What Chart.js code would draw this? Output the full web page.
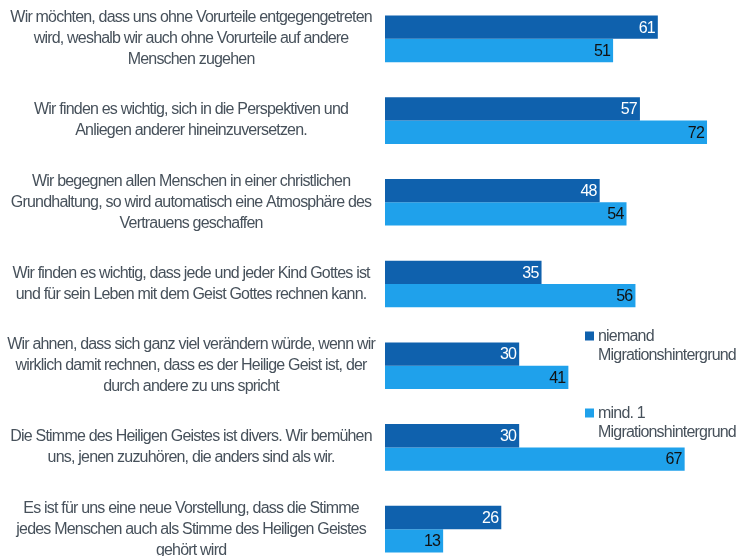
<!DOCTYPE html>
<html>
<head>
<meta charset="utf-8">
<script src="https://cdn.jsdelivr.net/npm/chart.js@4"></script>
<style>
  html, body { margin: 0; padding: 0; background: #fff; overflow: hidden; }
  #wrap { position: absolute; left: 0; top: -2.5px; width: 744px; height: 572px; }
</style>
</head>
<body>
<div id="wrap"><canvas id="chart" width="744" height="572"></canvas></div>
<script>
const statements = [
  ['Wir möchten, dass uns ohne Vorurteile entgegengetreten', 'wird, weshalb wir auch ohne Vorurteile auf andere', 'Menschen zugehen'],
  ['Wir finden es wichtig, sich in die Perspektiven und', 'Anliegen anderer hineinzuversetzen.'],
  ['Wir begegnen allen Menschen in einer christlichen', 'Grundhaltung, so wird automatisch eine Atmosphäre des', 'Vertrauens geschaffen'],
  ['Wir finden es wichtig, dass jede und jeder Kind Gottes ist', 'und für sein Leben mit dem Geist Gottes rechnen kann.'],
  ['Wir ahnen, dass sich ganz viel verändern würde, wenn wir', 'wirklich damit rechnen, dass es der Heilige Geist ist, der', 'durch andere zu uns spricht'],
  ['Die Stimme des Heiligen Geistes ist divers. Wir bemühen', 'uns, jenen zuzuhören, die anders sind als wir.'],
  ['Es ist für uns eine neue Vorstellung, dass die Stimme', 'jedes Menschen auch als Stimme des Heiligen Geistes', 'gehört wird']
];
const seriesNames = [['niemand', 'Migrationshintergrund'], ['mind. 1', 'Migrationshintergrund']];
const keinMigration = [61, 57, 48, 35, 30, 30, 26];
const mitMigration = [51, 72, 54, 56, 41, 67, 13];

const darkBlue = '#0f61ad';
const lightBlue = '#1fa1eb';
const textGrey = '#47515b';
const fontFamily = '"Liberation Sans", Arial, sans-serif';
const spacing = '-0.8px';

// the source picture has very tight letter spacing
const tightText = {
  id: 'tightText',
  beforeUpdate(chart) { chart.ctx.letterSpacing = spacing; },
  beforeDraw(chart) { chart.ctx.letterSpacing = spacing; }
};

const valueLabels = {
  id: 'valueLabels',
  afterDatasetsDraw(chart) {
    const ctx = chart.ctx;
    ctx.save();
    ctx.font = '16px ' + fontFamily;
    ctx.textAlign = 'right';
    ctx.textBaseline = 'middle';
    chart.data.datasets.forEach((ds, i) => {
      const meta = chart.getDatasetMeta(i);
      ctx.fillStyle = i === 0 ? '#ffffff' : '#111111';
      meta.data.forEach((bar, j) => {
        ctx.fillText(String(ds.data[j]), bar.x - 3, bar.y + 1);
      });
    });
    ctx.restore();
  }
};

const sideLegend = {
  id: 'sideLegend',
  afterDraw(chart) {
    const ctx = chart.ctx;
    ctx.save();
    ctx.font = '16px ' + fontFamily;
    ctx.textBaseline = 'alphabetic';
    ctx.textAlign = 'left';
    const tops = [333.5, 410.5];
    chart.data.datasets.forEach((ds, i) => {
      const y = tops[i];
      ctx.fillStyle = ds.backgroundColor;
      ctx.fillRect(585, y, 9, 9);
      ctx.fillStyle = textGrey;
      seriesNames[i].forEach((line, k) => {
        ctx.fillText(line, 598, y + 9 + k * 19.5);
      });
    });
    ctx.restore();
  }
};

new Chart(document.getElementById('chart'), {
  type: 'bar',
  data: {
    labels: statements,
    datasets: [
      { label: seriesNames[0].join(' '), data: keinMigration, backgroundColor: darkBlue },
      { label: seriesNames[1].join(' '), data: mitMigration, backgroundColor: lightBlue }
    ]
  },
  options: {
    indexAxis: 'y',
    responsive: false,
    animation: false,
    layout: { padding: { left: 0, right: 1.2, top: 0, bottom: 0 } },
    datasets: { bar: { barPercentage: 1, categoryPercentage: 0.571 } },
    plugins: { legend: { display: false }, tooltip: { enabled: false } },
    scales: {
      x: { display: false, min: 0, max: 80 },
      y: {
        grid: { display: false, drawTicks: false },
        border: { display: false },
        ticks: {
          crossAlign: 'center',
          padding: 10,
          color: textGrey,
          font: { family: fontFamily, size: 16, lineHeight: 1.31 }
        },
        afterFit(scale) {
          scale.width = 385;
          scale.paddingTop = 0;
          scale.paddingBottom = 0;
        }
      }
    }
  },
  plugins: [tightText, valueLabels, sideLegend]
});
</script>
</body>
</html>
